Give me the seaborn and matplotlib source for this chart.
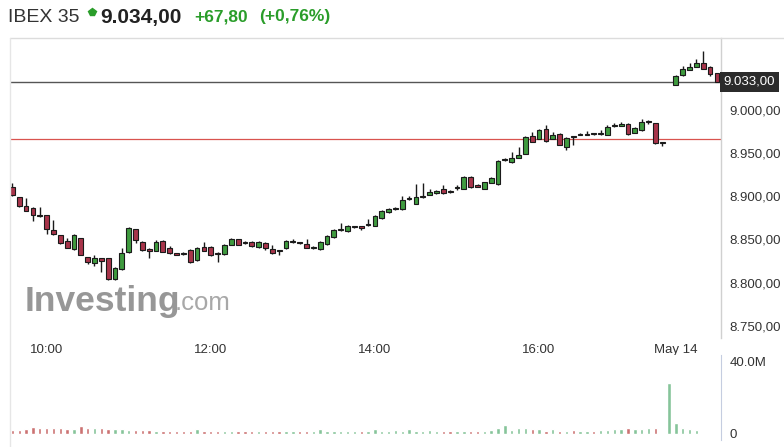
import numpy as np
import pandas as pd
import matplotlib.pyplot as plt
import matplotlib.transforms as mtransforms
from matplotlib.lines import Line2D
import seaborn as sns

# 5-minute IBEX 35 candles: May 13 from 9:35 to 17:30, then May 14 from 9:00 to 9:30
day1_times = pd.date_range('2019-05-13 09:35', '2019-05-13 17:30', freq='5min')
day2_times = pd.date_range('2019-05-14 09:00', '2019-05-14 09:30', freq='5min')

opens = [
    8910.7, 8899.1, 8888.7, 8886.4, 8877.5, 8878.3, 8860.9, 8855.1, 8848.1, 8838.8,
    8851.6, 8829.6, 8822.6, 8828.4, 8828.4, 8804.1, 8815.7, 8835.4, 8862.0, 8847.0,
    8838.8, 8836.5, 8848.1, 8840.0, 8833.5, 8834.2, 8837.7, 8826.1, 8841.2, 8841.2,
    8834.2, 8833.0, 8843.5, 8850.4, 8847.0, 8847.0, 8841.2, 8845.8, 8838.8, 8836.5,
    8840.0, 8847.0, 8845.8, 8844.6, 8840.0, 8838.8, 8844.6, 8852.8, 8860.9, 8859.7,
    8864.4, 8864.4, 8866.7, 8865.5, 8874.8, 8881.7, 8885.2, 8885.2, 8896.8, 8891.0,
    8899.1, 8901.5, 8903.8, 8908.4, 8906.1, 8909.6, 8908.4, 8922.3, 8911.9, 8908.4,
    8915.4, 8914.2, 8941.5, 8939.7, 8944.3, 8949.0, 8969.9, 8966.4, 8978.0, 8966.4,
    8972.2, 8957.1, 8968.7, 8971.0, 8971.0, 8972.2, 8972.2, 8971.0, 8981.0, 8981.4,
    8983.8, 8973.3, 8976.8, 8986.1, 8984.9, 8961.7,
    9029.0, 9040.6, 9046.4, 9049.9, 9054.5, 9049.9, 9042.9]
closes = [
    8901.5, 8888.7, 8882.9, 8878.3, 8876.8, 8862.0, 8856.2, 8845.8, 8840.0, 8855.1,
    8831.9, 8823.8, 8828.4, 8825.0, 8804.1, 8816.8, 8834.2, 8863.2, 8849.3, 8837.7,
    8836.5, 8847.0, 8835.4, 8834.2, 8832.5, 8833.5, 8823.8, 8840.0, 8836.5, 8831.9,
    8833.0, 8843.5, 8850.4, 8843.5, 8846.0, 8842.3, 8847.0, 8840.0, 8834.2, 8836.0,
    8848.1, 8847.5, 8845.3, 8840.0, 8840.5, 8847.0, 8853.9, 8860.9, 8861.5, 8865.5,
    8865.0, 8863.8, 8867.2, 8877.1, 8882.9, 8885.2, 8885.8, 8895.7, 8897.5, 8899.1,
    8899.6, 8904.9, 8906.1, 8903.8, 8905.5, 8910.2, 8922.3, 8910.7, 8911.3, 8916.5,
    8921.2, 8940.9, 8942.0, 8944.3, 8947.8, 8968.7, 8962.9, 8976.8, 8964.1, 8971.0,
    8959.4, 8967.5, 8968.2, 8972.2, 8971.5, 8971.8, 8972.8, 8980.3, 8981.6, 8983.8,
    8972.2, 8979.1, 8986.1, 8986.5, 8961.7, 8961.2,
    9039.4, 9047.5, 9049.9, 9054.5, 9047.5, 9041.7, 9033.0]
highs = [
    8915.4, 8899.5, 8898.0, 8887.0, 8887.5, 8878.5, 8872.5, 8855.5, 8851.6, 8856.5,
    8852.0, 8830.0, 8831.9, 8829.0, 8829.0, 8817.5, 8840.0, 8864.0, 8862.5, 8848.0,
    8839.5, 8849.3, 8849.3, 8842.3, 8834.0, 8835.0, 8839.0, 8841.0, 8847.0, 8842.3,
    8835.0, 8844.6, 8851.6, 8851.0, 8848.0, 8848.0, 8848.0, 8846.5, 8843.5, 8837.5,
    8849.0, 8850.4, 8846.5, 8850.4, 8842.0, 8848.0, 8855.0, 8862.0, 8869.0, 8866.5,
    8866.0, 8865.0, 8873.6, 8878.0, 8884.0, 8886.0, 8887.5, 8900.3, 8900.3, 8914.2,
    8915.4, 8908.4, 8907.0, 8913.0, 8907.0, 8913.0, 8923.0, 8923.0, 8914.2, 8917.0,
    8922.0, 8941.5, 8944.3, 8951.3, 8957.1, 8969.5, 8974.5, 8977.5, 8982.6, 8974.5,
    8973.0, 8968.5, 8969.5, 8972.8, 8975.7, 8973.0, 8976.8, 8982.6, 8984.9, 8986.1,
    8984.9, 8980.0, 8989.6, 8988.4, 8985.5, 8962.5,
    9040.5, 9051.0, 9054.5, 9059.1, 9068.4, 9050.5, 9043.5]
lows = [
    8900.3, 8887.5, 8882.5, 8871.3, 8876.5, 8856.2, 8855.5, 8844.6, 8839.5, 8837.5,
    8831.5, 8821.5, 8819.2, 8812.2, 8803.5, 8803.5, 8815.0, 8834.5, 8845.8, 8837.0,
    8828.4, 8836.0, 8835.0, 8833.5, 8831.9, 8832.5, 8823.0, 8825.5, 8836.0, 8831.0,
    8823.8, 8832.0, 8843.0, 8843.0, 8845.0, 8841.5, 8840.5, 8837.7, 8833.5, 8831.9,
    8839.0, 8846.0, 8844.6, 8839.5, 8838.8, 8838.0, 8844.0, 8852.0, 8860.0, 8859.0,
    8863.0, 8860.9, 8866.0, 8865.0, 8874.0, 8881.0, 8884.5, 8884.5, 8896.0, 8890.5,
    8898.5, 8901.0, 8903.0, 8903.0, 8903.8, 8907.2, 8908.0, 8910.0, 8911.0, 8908.0,
    8915.0, 8913.5, 8941.0, 8939.0, 8944.0, 8948.5, 8962.5, 8966.0, 8963.5, 8966.0,
    8959.0, 8953.6, 8959.4, 8970.5, 8970.5, 8971.0, 8971.5, 8970.5, 8980.5, 8981.0,
    8971.5, 8973.0, 8976.0, 8983.8, 8961.0, 8958.3,
    9028.5, 9040.0, 9046.0, 9049.5, 9047.0, 9039.4, 9032.5]

# volume in millions, one per slot on the time axis
volume = [
    2.0, 2.1, 2.6, 3.9, 3.4, 3.2, 3.1, 3.1, 3.0, 2.6,
    4.2, 3.4, 3.3, 3.3, 2.9, 2.6, 2.5, 2.2, 2.4, 2.1,
    2.0, 1.9, 1.9, 1.8, 1.9, 1.8, 1.9, 2.6, 1.9, 1.8,
    1.8, 1.9, 1.8, 1.8, 1.9, 1.8, 1.8, 1.8, 1.9, 1.8,
    1.9, 1.8, 1.8, 1.9, 1.8, 2.6, 1.9, 1.8, 1.9, 1.8,
    1.9, 1.8, 1.9, 2.6, 1.9, 1.9, 2.0, 1.9, 2.5, 1.9,
    1.9, 2.0, 1.9, 1.9, 1.9, 1.8, 1.9, 1.9, 1.8, 1.9,
    2.0, 3.4, 5.0, 2.2, 3.3, 3.2, 2.8, 2.9, 1.9, 2.6,
    1.9, 1.9, 2.2, 1.9, 1.9, 1.9, 2.0, 2.0, 2.6, 3.0,
    3.2, 3.0, 2.6, 3.1, 3.1, 0.0, 27.7, 6.0, 3.1, 3.0,
    2.0, 0.0, 0.0, 0.0]

last_price = 9033.00
prev_close = 8966.20
price_ticks = [8750, 8800, 8850, 8900, 8950, 9000]
time_labels = ['10:00', '12:00', '14:00', '16:00', 'May 14']

# candle slots: day 1 continuous, one empty slot, then day 2
slots = list(range(len(day1_times))) + [len(day1_times) + 1 + i for i in range(len(day2_times))]
df = pd.DataFrame({'slot': slots, 'open': opens, 'high': highs, 'low': lows, 'close': closes})
df['up'] = df['close'] >= df['open']

day1_lookup = {t.strftime('%H:%M'): i for i, t in enumerate(day1_times)}
time_ticks = [day1_lookup[t] for t in time_labels[:4]] + [slots[len(day1_times)]]

vol_df = pd.DataFrame({'slot': np.arange(len(volume)), 'vol': volume})
dir_map = dict(zip(df['slot'], df['up']))
vol_df['dir'] = ['up' if dir_map.get(s, True) else 'down' for s in vol_df['slot']]

sns.set_style('white')
plt.rcParams['font.family'] = ['Liberation Sans', 'DejaVu Sans']

W, H = 784, 447
fig = plt.figure(figsize=(W / 100, H / 100), dpi=100)

def fx(px):
    return px / W

def fy(py):
    return 1 - py / H

ax = fig.add_axes([fx(10), fy(338), fx(721) - fx(10), fy(38) - fy(338)])
axv = fig.add_axes([fx(10), fy(440), fx(721) - fx(10), fy(355) - fy(440)])

xlim = (-0.35, 103.6)

# watermark
ax.text(0.02, 0.122, 'Investing', transform=ax.transAxes, fontsize=25.5, fontweight='bold',
        color='#858585', alpha=0.85, va='center', ha='left', zorder=0)
ax.text(0.232, 0.116, '.com', transform=ax.transAxes, fontsize=18.5,
        color='#999999', alpha=0.85, va='center', ha='left', zorder=0)

# reference lines
ax.axhline(prev_close, color='#d9534f', lw=0.9, zorder=1)
ax.axhline(last_price, color='#555555', lw=1.0, zorder=1)

# candles
red_fill, green_fill = '#a8344a', '#3f9b3f'
ax.vlines(df['slot'], df['low'], df['high'], color='#1a1a1a', lw=1.0, zorder=2)
body_low = np.minimum(df['open'], df['close'])
body_h = np.maximum(np.abs(df['close'] - df['open']), 1.2)
ax.bar(df['slot'], body_h, bottom=body_low, width=0.7,
       color=np.where(df['up'], green_fill, red_fill), edgecolor='#1a1a1a', linewidth=0.8, zorder=3)

ax.set_xlim(*xlim)
ax.set_ylim(8735.7, 9083.5)
ax.yaxis.tick_right()
ax.set_yticks(price_ticks)
ax.set_yticklabels([f'{v:,.2f}'.replace(',', 'X').replace('.', ',').replace('X', '.') for v in price_ticks])
ax.set_xticks(time_ticks)
ax.set_xticklabels(time_labels)
ax.tick_params(axis='both', length=0, labelsize=9.5, colors='#333333')
ax.tick_params(axis='x', pad=4)
ax.tick_params(axis='y', pad=6)
for side in ['top', 'bottom', 'left']:
    ax.spines[side].set_visible(False)
ax.spines['right'].set_color('#d0d0d0')
ax.spines['right'].set_linewidth(1)

# last price label box
trans = mtransforms.blended_transform_factory(ax.transAxes, ax.transData)
ax.text(1.004, last_price, '9.033,00', transform=trans, ha='left', va='center',
        fontsize=9.5, color='white', clip_on=False,
        bbox=dict(boxstyle='square,pad=0.3', facecolor='#2b2b2b', edgecolor='none'))

# volume
sns.barplot(data=vol_df, x='slot', y='vol', hue='dir', palette={'up': '#86c49a', 'down': '#cc7272'},
            native_scale=True, dodge=False, width=0.5, saturation=1, legend=False,
            errorbar=None, ax=axv)
axv.set_xlim(*xlim)
axv.set_ylim(-3.3, 43.3)
axv.yaxis.tick_right()
axv.set_yticks([0, 40])
axv.set_yticklabels(['0', '40.0M'])
axv.set_xticks([])
axv.set_xlabel('')
axv.set_ylabel('')
axv.tick_params(axis='y', length=0, labelsize=9.5, colors='#333333', pad=6)
for side in ['top', 'bottom', 'left']:
    axv.spines[side].set_visible(False)
axv.spines['right'].set_color('#c5cde0')

# frame lines and header
fig.add_artist(Line2D([fx(10), 1], [fy(38), fy(38)], color='#dcdcdc', lw=1))
fig.add_artist(Line2D([fx(10), fx(10)], [fy(38), 0], color='#e6e6e6', lw=1))

fig.text(fx(8), fy(17), 'IBEX 35', fontsize=14, color='#333333', va='center', ha='left')
fig.add_artist(Line2D([fx(92)], [fy(12)], marker='p', markersize=6, color='#2a9d2a', lw=0))
fig.text(fx(100), fy(17), '9.034,00', fontsize=15, fontweight='bold', color='#222222', va='center', ha='left')
fig.text(fx(194), fy(17), '+67,80', fontsize=12.5, fontweight='bold', color='#2a9d2a', va='center', ha='left')
fig.text(fx(259), fy(17), '(+0,76%)', fontsize=12.5, fontweight='bold', color='#2a9d2a', va='center', ha='left')

fig.savefig('out.png', dpi=100, facecolor='white')
